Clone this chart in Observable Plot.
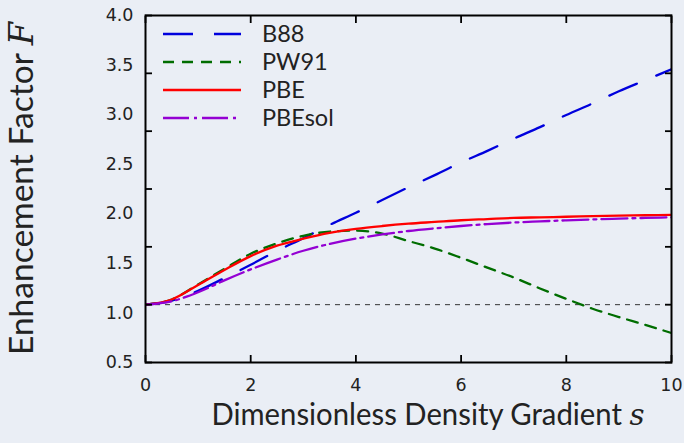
<!DOCTYPE html>
<html><head><meta charset="utf-8">
<script src="https://cdn.jsdelivr.net/npm/d3@7"></script>
<script src="https://cdn.jsdelivr.net/npm/@observablehq/plot@0.6"></script>
<style>
html,body{margin:0;padding:0;background:#eaeef5;overflow:hidden;}
</style></head><body><div id="chart"></div>
<script>
// Dimensionless density gradient s
const s = [0,0.5,1,1.5,2,2.5,3,3.5,4,4.5,5,5.5,6,6.5,7,7.5,8,8.5,9,9.5,10];
// Enhancement factor F(s)
const b88    = [1.00,1.035,1.12,1.23,1.345,1.465,1.575,1.69,1.795,1.905,2.015,2.12,2.23,2.33,2.435,2.535,2.64,2.74,2.845,2.94,3.035];
const pw91   = [1.00,1.045,1.175,1.31,1.44,1.53,1.595,1.632,1.64,1.615,1.55,1.485,1.405,1.32,1.235,1.14,1.05,0.965,0.893,0.825,0.755];
const pbe    = [1.00,1.045,1.17,1.30,1.42,1.51,1.57,1.62,1.655,1.68,1.70,1.715,1.73,1.74,1.75,1.755,1.76,1.765,1.77,1.773,1.776];
const pbesol = [1.00,1.03,1.107,1.21,1.305,1.39,1.466,1.525,1.571,1.607,1.637,1.66,1.68,1.697,1.71,1.72,1.729,1.737,1.744,1.75,1.755];
const seriesNames = ["B88","PW91","PBE","PBEsol"];
const seriesValues = [b88, pw91, pbe, pbesol];
const xTicks = [0,2,4,6,8,10];
const yTicks = [0.5,1,1.5,2,2.5,3,3.5];
const yTickLabels = ["0.5","1.0","1.5","2.0","2.5","3.0","3.5","4.0"];
const refLine = [1];

// styles (kept apart from data)
const styles = {
  B88:    {stroke:"#0000dd", dash:"30,21"},
  PW91:   {stroke:"#006d00", dash:"11,8"},
  PBE:    {stroke:"#ff0000", dash:null},
  PBEsol: {stroke:"#9400d3", dash:"26,5,3,5"}
};

const yDom = [0.5, 3.5];
const labelPos = yTickLabels.map((_, i) => yDom[0] + i * (yDom[1] - yDom[0]) / (yTickLabels.length - 1));
const labelMap = new Map(labelPos.map((p, i) => [p, yTickLabels[i]]));

const lineMarks = seriesNames.map((name, k) => {
  const rows = s.map((sv, i) => ({s: sv, F: seriesValues[k][i]}));
  return Plot.line(rows, {x: "s", y: "F", stroke: styles[name].stroke, strokeWidth: 2.3,
    strokeDasharray: styles[name].dash, curve: "monotone-x", clip: true});
});

const tickStyle = {stroke: "#000", strokeWidth: 1.8};
const labelFont = {fill: "#222", fontSize: 17.5, fontFamily: "DejaVu Sans"};
const chart = Plot.plot({
  width: 684, height: 443,
  marginLeft: 145, marginRight: 13, marginTop: 15, marginBottom: 81,
  style: {background: "#eaeef5", color: "#222"},
  x: {domain: [0, 10]},
  y: {domain: yDom},
  marks: [
    Plot.ruleY(refLine, {stroke: "#333", strokeWidth: 1, strokeDasharray: "5,5"}),
    ...lineMarks,
    Plot.axisX({ticks: xTicks, tickSize: -7, tickFormat: () => "", label: null, ...tickStyle}),
    Plot.axisX({anchor: "top", ticks: xTicks, tickSize: -7, tickFormat: () => "", label: null, ...tickStyle}),
    Plot.axisX({ticks: xTicks, tickSize: 0, tickPadding: 16, label: null, ...labelFont}),
    Plot.axisY({ticks: yTicks, tickSize: -7, tickFormat: () => "", label: null, ...tickStyle}),
    Plot.axisY({anchor: "right", ticks: yTicks, tickSize: -7, tickFormat: () => "", label: null, ...tickStyle}),
    Plot.axisY({ticks: labelPos, tickSize: 0, tickPadding: 12, tickFormat: d => labelMap.get(d), label: null, ...labelFont}),
    Plot.frame({stroke: "#000", strokeWidth: 2})
  ]
});
document.getElementById("chart").appendChild(chart);

const svg = d3.select(chart);

// legend and axis titles
const xr = chart.scale("x").range, yr = chart.scale("y").range;
const fLeft = xr[0], fRight = xr[1], fTop = yr[1], fBottom = yr[0];
const lg = svg.append("g").attr("text-anchor", "start");
seriesNames.forEach((name, i) => {
  const cy = fTop + 19 + i * 28;
  lg.append("line").attr("x1", fLeft + 18).attr("x2", fLeft + 96).attr("y1", cy).attr("y2", cy)
    .attr("stroke", styles[name].stroke).attr("stroke-width", 2.3)
    .attr("stroke-dasharray", styles[name].dash);
  lg.append("text").attr("x", fLeft + 117).attr("y", cy).attr("dy", "0.36em").attr("text-anchor", "start")
    .style("font-family", "Lato, sans-serif").style("font-size", "23.5px").attr("fill", "#222").text(name);
});
const xt = svg.append("text").attr("x", (fLeft + fRight) / 2 + 20).attr("y", fBottom + 63)
  .attr("text-anchor", "middle").style("font-family", "Lato, sans-serif").style("font-size", "30.5px").attr("fill", "#222")
  .attr("textLength", 433).attr("lengthAdjust", "spacingAndGlyphs");
xt.append("tspan").text("Dimensionless Density Gradient ");
xt.append("tspan").style("font-family", "'DejaVu Serif', serif").style("font-style", "italic").text("s");
const yt = svg.append("text").attr("transform", `translate(33,${(fTop + fBottom) / 2})rotate(-90)`)
  .attr("text-anchor", "middle").style("font-family", "Lato, sans-serif").style("font-size", "33px").attr("fill", "#222")
  .attr("textLength", 333).attr("lengthAdjust", "spacingAndGlyphs");
yt.append("tspan").text("Enhancement Factor ");
yt.append("tspan").style("font-family", "'DejaVu Serif', serif").style("font-style", "italic").text("F");
</script></body></html>
